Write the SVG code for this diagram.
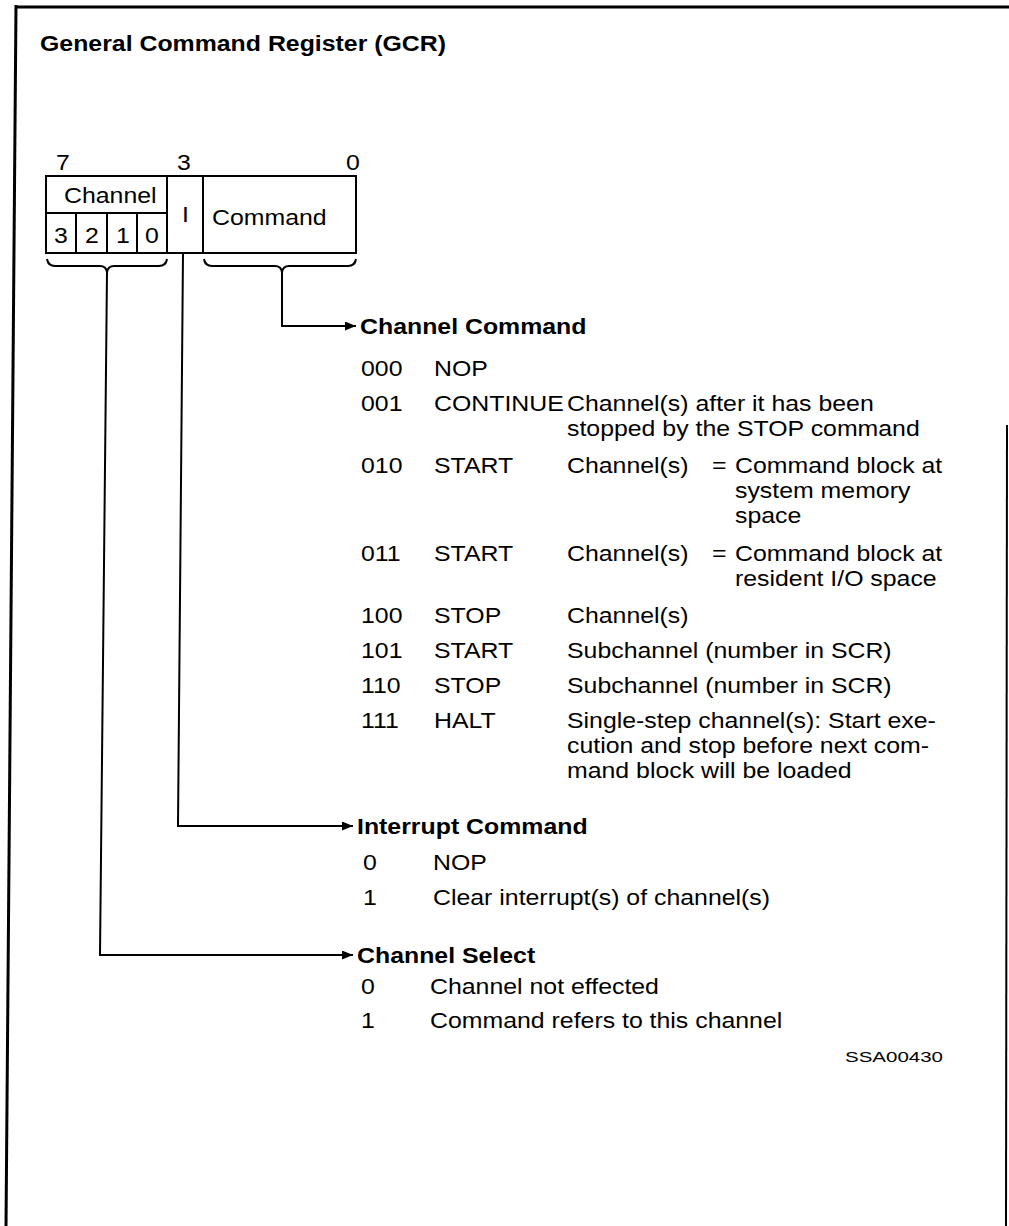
<svg xmlns="http://www.w3.org/2000/svg" width="1009" height="1226" viewBox="0 0 1009 1226">
<style>
.t{font-family:"Liberation Sans",Arial,Helvetica,sans-serif;font-size:22px;fill:#000;transform-box:fill-box;transform-origin:0 0;transform:scaleX(1.13)}
.b{font-weight:bold}
.sm{font-family:"Liberation Sans",Arial,Helvetica,sans-serif;font-size:15px;fill:#000}
.ln{stroke:#000;stroke-width:2;fill:none}
.fr{stroke:#000;stroke-width:3;fill:none}
</style>
<defs>
<marker id="arr" viewBox="0 0 11 9" refX="11" refY="4.5" markerWidth="11" markerHeight="9" markerUnits="userSpaceOnUse" orient="auto">
<path d="M0,0 L11,4.5 L0,9 Z" fill="#000"/>
</marker>
</defs>
<rect width="1009" height="1226" fill="#fff"/>
<g id="frame">
<line class="fr" x1="15" y1="7" x2="1009" y2="7"/>
<line class="fr" x1="16" y1="5" x2="6" y2="1226"/>
<line class="ln" x1="1007" y1="425" x2="1006" y2="1226"/>
</g>
<g id="title">
<text class="t b" x="40" y="51">General Command Register (GCR)</text>
</g>
<g id="register">
<text class="t" x="56" y="170">7</text>
<text class="t" x="177" y="170">3</text>
<text class="t" x="346" y="170">0</text>
<rect class="ln" x="46" y="176" width="310" height="77"/>
<line class="ln" x1="167" y1="176" x2="167" y2="253"/>
<line class="ln" x1="203" y1="176" x2="203" y2="253"/>
<line class="ln" x1="46" y1="213" x2="167" y2="213"/>
<line class="ln" x1="76" y1="213" x2="76" y2="253"/>
<line class="ln" x1="107" y1="213" x2="107" y2="253"/>
<line class="ln" x1="137" y1="213" x2="137" y2="253"/>
<text class="t" x="64" y="203">Channel</text>
<text class="t" x="54" y="243">3</text>
<text class="t" x="85" y="243">2</text>
<text class="t" x="116" y="243">1</text>
<text class="t" x="145" y="243">0</text>
<text class="t" x="182" y="222">I</text>
<text class="t" x="212" y="225">Command</text>
</g>
<g id="braces">
<path class="ln" d="M47,259 Q48,266 55,266 L100,266 Q106,266 107,272 Q108,266 114,266 L159,266 Q166,266 167,259"/>
<path class="ln" d="M204,259 Q205,266 212,266 L275,266 Q281,266 282,272 Q283,266 289,266 L348,266 Q355,266 356,259"/>
</g>
<g id="connectors">
<polyline class="ln" points="282,272 282,326 356,326" marker-end="url(#arr)"/>
<polyline class="ln" points="183,253 178,826 353,826" marker-end="url(#arr)"/>
<polyline class="ln" points="107,272 100,955 353,955" marker-end="url(#arr)"/>
</g>
<g id="channel-command">
<text class="t b" x="360" y="334">Channel Command</text>
<text class="t" x="361" y="376">000</text>
<text class="t" x="434" y="376">NOP</text>
<text class="t" x="361" y="411">001</text>
<text class="t" x="434" y="411">CONTINUE</text>
<text class="t" x="567" y="411">Channel(s) after it has been</text>
<text class="t" x="567" y="436">stopped by the STOP command</text>
<text class="t" x="361" y="473">010</text>
<text class="t" x="434" y="473">START</text>
<text class="t" x="567" y="473">Channel(s)</text>
<text class="t" x="712" y="473">=</text>
<text class="t" x="735" y="473">Command block at</text>
<text class="t" x="735" y="498">system memory</text>
<text class="t" x="735" y="523">space</text>
<text class="t" x="361" y="561">011</text>
<text class="t" x="434" y="561">START</text>
<text class="t" x="567" y="561">Channel(s)</text>
<text class="t" x="712" y="561">=</text>
<text class="t" x="735" y="561">Command block at</text>
<text class="t" x="735" y="586">resident I/O space</text>
<text class="t" x="361" y="623">100</text>
<text class="t" x="434" y="623">STOP</text>
<text class="t" x="567" y="623">Channel(s)</text>
<text class="t" x="361" y="658">101</text>
<text class="t" x="434" y="658">START</text>
<text class="t" x="567" y="658">Subchannel (number in SCR)</text>
<text class="t" x="361" y="693">110</text>
<text class="t" x="434" y="693">STOP</text>
<text class="t" x="567" y="693">Subchannel (number in SCR)</text>
<text class="t" x="361" y="728">111</text>
<text class="t" x="434" y="728">HALT</text>
<text class="t" x="567" y="728">Single-step channel(s): Start exe-</text>
<text class="t" x="567" y="753">cution and stop before next com-</text>
<text class="t" x="567" y="778">mand block will be loaded</text>
</g>
<g id="interrupt-command">
<text class="t b" x="357" y="834">Interrupt Command</text>
<text class="t" x="363" y="870">0</text>
<text class="t" x="433" y="870">NOP</text>
<text class="t" x="363" y="905">1</text>
<text class="t" x="433" y="905">Clear interrupt(s) of channel(s)</text>
</g>
<g id="channel-select">
<text class="t b" x="357" y="963">Channel Select</text>
<text class="t" x="361" y="994">0</text>
<text class="t" x="430" y="994">Channel not effected</text>
<text class="t" x="361" y="1028">1</text>
<text class="t" x="430" y="1028">Command refers to this channel</text>
</g>
<g id="code">
<text class="sm" x="845" y="1062" textLength="98" lengthAdjust="spacingAndGlyphs">SSA00430</text>
</g>
</svg>
